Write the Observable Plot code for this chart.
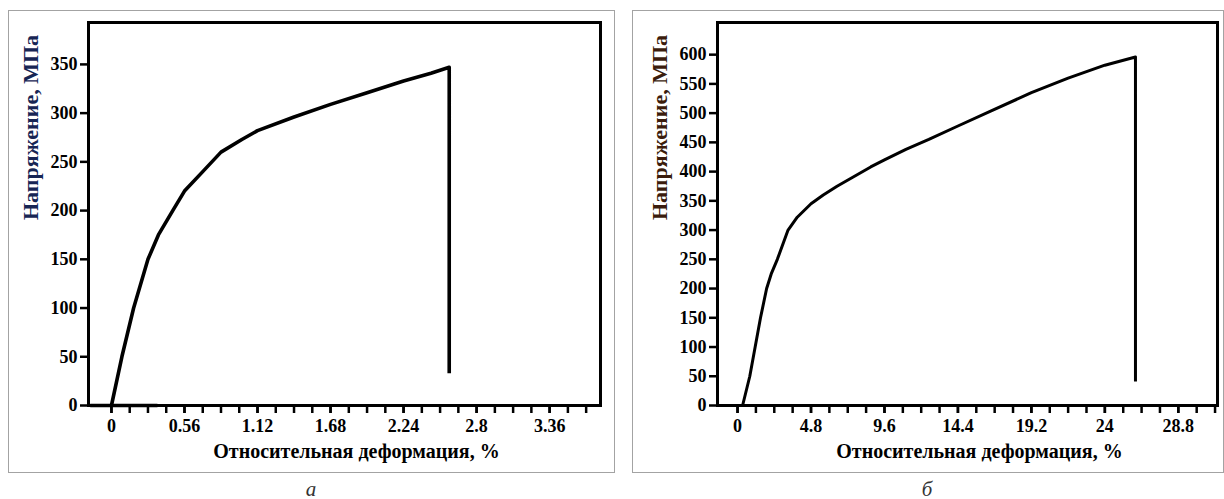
<!DOCTYPE html>
<html>
<head>
<meta charset="utf-8">
<script src="https://cdn.jsdelivr.net/npm/d3@7"></script>
<script src="https://cdn.jsdelivr.net/npm/@observablehq/plot@0.6"></script>
<style>
  html, body { margin: 0; padding: 0; background: #fff; width: 1224px; height: 499px; overflow: hidden; }
  .box { position: absolute; border: 1.5px solid #a3a3a3; box-sizing: border-box; }
  .chart { position: absolute; }
  .chart svg text { font-weight: bold; }
  .cap { position: absolute; font-family: "Liberation Serif", "DejaVu Serif", serif; font-style: italic; font-size: 21px; color: #333; transform: translate(-50%, -50%); }
</style>
</head>
<body>
<div class="box" style="left:8px;top:10px;width:607px;height:463px;"></div>
<div class="box" style="left:632px;top:10px;width:592px;height:463px;"></div>
<div id="a" class="chart" style="left:8px;top:10px;"></div>
<div id="b" class="chart" style="left:632px;top:10px;"></div>
<div class="cap" style="left:311px;top:489px;">а</div>
<div class="cap" style="left:927px;top:489px;">б</div>
<script>
// ---- data: panel а ----
const strainA = [0, 0.08, 0.17, 0.28, 0.36, 0.47, 0.56, 0.70, 0.84, 1.00, 1.12, 1.40, 1.68, 1.96, 2.24, 2.45, 2.59, 2.59];
const stressA = [0, 50, 100, 150, 175, 200, 220, 240, 260, 273, 282, 296, 309, 321, 333, 341, 347, 33];
const baseStrainA = [-0.16, 0.35];
const baseStressA = [0, 0];
const xTickLabelsA = [0, 0.56, 1.12, 1.68, 2.24, 2.8, 3.36];
const yTicksA = [0, 50, 100, 150, 200, 250, 300, 350];

// ---- data: panel б ----
const strainB = [0.33, 0.8, 1.15, 1.5, 1.9, 2.2, 2.6, 3.3, 3.9, 4.8, 5.6, 6.5, 7.5, 8.7, 9.6, 11, 12.5, 14.4, 16.5, 19.2, 21.6, 24, 26.0, 26.0];
const stressB = [0, 50, 100, 150, 200, 225, 250, 300, 322, 345, 360, 375, 390, 408, 420, 438, 455, 478, 503, 535, 560, 582, 596, 41];
const xTickLabelsB = [0, 4.8, 9.6, 14.4, 19.2, 24, 28.8];
const yTicksB = [0, 50, 100, 150, 200, 250, 300, 350, 400, 450, 500, 550, 600];

const yTitle = "Напряжение, МПа";
const xTitle = "Относительная деформация, %";

function makeChart({strain, stress, base, xDomain, yDomain, xLabels, minorStep, minorCount, yTicks,
                    width, marginLeft, marginRight, lineWidth, titleColor}) {
  const pts = strain.map((x, i) => ({x, y: stress[i]}));
  const minor = d3.range(minorCount).map(i => +(i * minorStep).toFixed(4));
  const marks = [
    Plot.frame({stroke: "#000", strokeWidth: 3}),
    Plot.axisY({ticks: yTicks, tickSize: 8, tickPadding: 3, strokeWidth: 2.5, label: null, tickFormat: d => String(d), fontSize: 18, fontWeight: "bold"}),
    Plot.axisX({ticks: minor, tickSize: 8, strokeWidth: 2.5, label: null, tickFormat: () => ""}),
    Plot.axisX({ticks: xLabels, tickSize: 8, tickPadding: 6, strokeWidth: 2.5, label: null, tickFormat: d => String(d), fontSize: 18, fontWeight: "bold"}),
    Plot.line(pts, {x: "x", y: "y", stroke: "#000", strokeWidth: lineWidth, strokeLinejoin: "round", strokeLinecap: "butt"}),
    Plot.text([yTitle], {frameAnchor: "left", text: d => d, rotate: -90, dx: -58, dy: 6, fontSize: 22, fontWeight: "bold", fill: titleColor}),
    Plot.text([xTitle], {frameAnchor: "bottom", text: d => d, dx: 12, dy: 52, fontSize: 20, fontWeight: "bold", fill: "#000"})
  ];
  if (base) {
    const bpts = base[0].map((x, i) => ({x, y: base[1][i]}));
    marks.push(Plot.line(bpts, {x: "x", y: "y", stroke: "#000", strokeWidth: 3.5}));
  }
  return Plot.plot({
    width, height: 462,
    marginLeft, marginRight, marginTop: 12, marginBottom: 67,
    x: {domain: xDomain},
    y: {domain: yDomain},
    style: {fontFamily: "'Liberation Serif', 'Times New Roman', serif", fontWeight: "bold", fontSize: "18px", color: "#000", background: "transparent", overflow: "visible"},
    marks
  });
}

document.getElementById("a").appendChild(makeChart({
  strain: strainA, stress: stressA, base: [baseStrainA, baseStressA],
  xDomain: [-0.176, 3.75], yDomain: [0, 393], xLabels: xTickLabelsA,
  minorStep: 0.14, minorCount: 27, yTicks: yTicksA,
  width: 606, marginLeft: 80, marginRight: 14, lineWidth: 3.6, titleColor: "#172554"
}));

document.getElementById("b").appendChild(makeChart({
  strain: strainB, stress: stressB, base: null,
  xDomain: [-1.31, 31.36], yDomain: [0, 655], xLabels: xTickLabelsB,
  minorStep: 1.2, minorCount: 27, yTicks: yTicksB,
  width: 591, marginLeft: 85, marginRight: 6, lineWidth: 3, titleColor: "#3b1c0c"
}));
</script>
</body>
</html>
